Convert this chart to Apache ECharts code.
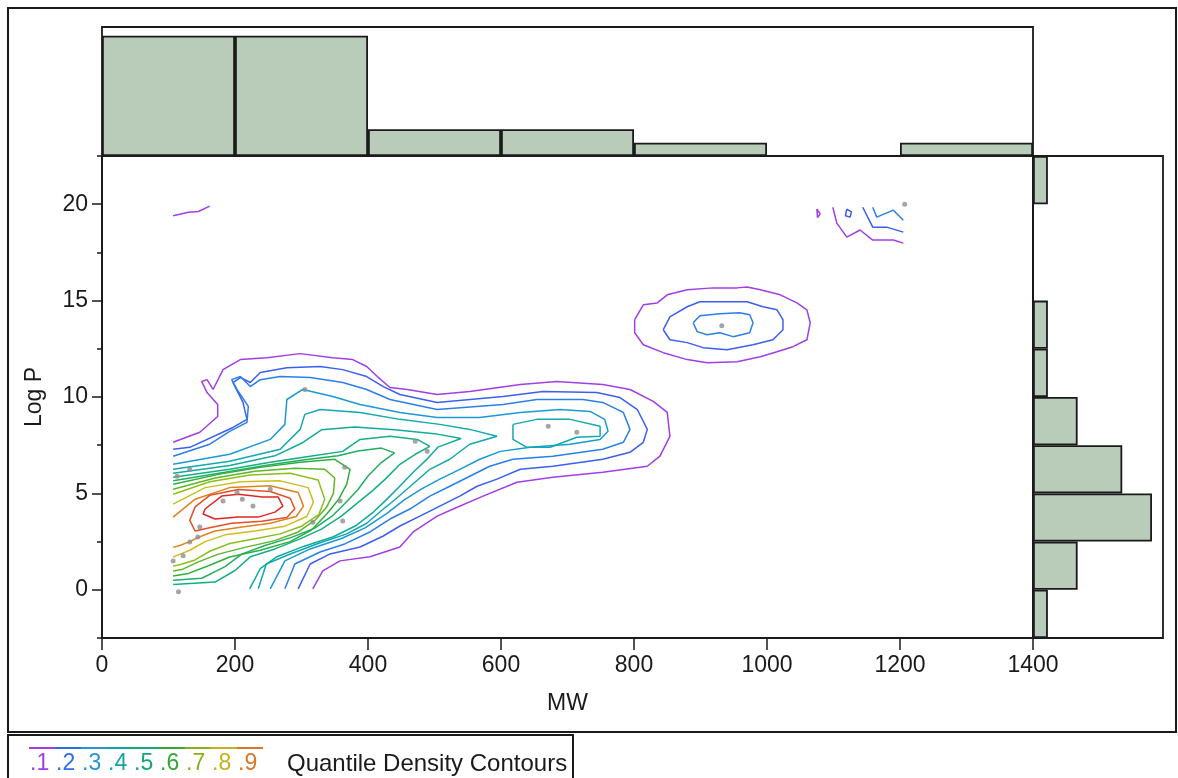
<!DOCTYPE html>
<html>
<head>
<meta charset="utf-8">
<script src="https://cdn.jsdelivr.net/npm/echarts@6/dist/echarts.min.js"></script>
<style>
html,body{margin:0;padding:0;background:#fff;}
#chart{width:1178px;height:778px;}
</style>
</head>
<body>
<div id="chart"></div>
<script>
// ---------------- data ----------------
const mwBins = ['0-200','200-400','400-600','600-800','800-1000','1000-1200','1200-1400'];
const mwCounts = [9, 9, 2, 2, 1, 0, 1];
const logpBins = ['-2.5-0','0-2.5','2.5-5','5-7.5','7.5-10','10-12.5','12.5-15','15-17.5','17.5-20','20-22.5'];
const logpCounts = [1, 3, 8, 6, 3, 1, 1, 0, 0, 1];

const pointsMW   = [115, 107, 122, 132, 144, 147, 132, 113, 182, 203, 211, 227, 253, 305, 317, 362, 358, 365, 471, 489, 671, 714, 932, 1207];
const pointsLogP = [-0.1, 1.5, 1.76, 2.48, 2.74, 3.26, 6.25, 5.89, 4.6, 5.06, 4.7, 4.34, 5.22, 10.39, 3.51, 3.57, 4.6, 6.36, 7.7, 7.18, 8.48, 8.17, 13.7, 20.0];

const xTicks = [0, 200, 400, 600, 800, 1000, 1200, 1400];
const yMajorTicks = [0, 5, 10, 15, 20];
const yMinorTicks = [-2.5, 2.5, 7.5, 12.5, 17.5, 22.5];
const quantileLabels = ['.1', '.2', '.3', '.4', '.5', '.6', '.7', '.8', '.9'];

// contour lines, [MW, LogP]
const contour1 = [[107,7.65],[147,8.17],[174,8.99],[174,9.61],[158,10.23],[150,10.8],[158,10.9],[167,10.39],[182,11.42],[208,11.94],[248,12.04],[298,12.25],[347,12.04],[377,11.94],[398,11.58],[414,11.06],[433,10.49],[459,10.39],[504,10.13],[553,10.28],[629,10.65],[684,10.8],[753,10.65],[794,10.39],[829,9.77],[850,9.2],[854,7.96],[839,6.93],[820,6.41],[753,6.1],[678,5.84],[624,5.58],[573,4.86],[528,4.19],[504,3.82],[468,3.0],[448,2.22],[403,1.71],[358,1.5],[332,0.98],[317,0.05]];
const contour2 = [[107,7.29],[132,7.39],[197,8.42],[218,8.84],[212,9.72],[197,10.75],[208,11.01],[223,10.75],[238,11.27],[278,11.52],[328,11.58],[362,11.42],[398,11.06],[423,10.54],[448,10.13],[504,9.72],[603,10.03],[663,10.28],[744,10.23],[779,9.97],[805,9.35],[820,8.32],[814,7.65],[794,7.13],[753,6.77],[678,6.41],[629,6.25],[594,5.74],[564,5.37],[538,4.86],[508,4.34],[478,3.82],[448,3.31],[423,2.79],[388,2.22],[343,1.86],[313,1.34],[295,0.05]];
const contour3 = [[107,6.93],[162,7.55],[192,8.22],[218,8.68],[220,9.51],[203,10.39],[195,10.9],[208,11.06],[223,10.54],[238,10.9],[268,11.06],[313,11.01],[362,10.75],[398,10.39],[433,9.87],[504,9.35],[603,9.61],[654,9.87],[723,9.87],[753,9.72],[784,9.2],[794,8.32],[784,7.65],[753,7.29],[678,6.93],[618,6.77],[583,6.41],[553,5.89],[523,5.37],[493,4.86],[463,4.19],[433,3.67],[403,3.0],[365,2.38],[328,1.96],[290,1.34],[275,0.05]];
const contour4 = [[107,6.51],[192,7.03],[253,7.8],[275,8.58],[278,9.87],[302,10.39],[347,10.03],[388,9.61],[448,9.2],[504,8.94],[568,8.94],[629,9.2],[689,9.35],[734,9.25],[756,8.84],[761,8.22],[749,7.8],[704,7.55],[644,7.39],[599,7.18],[568,6.77],[538,6.25],[508,5.74],[480,5.22],[454,4.65],[428,3.95],[395,3.2],[360,2.66],[313,2.12],[275,1.5],[253,0.05]];
const contour5 = [[107,6.25],[192,6.67],[268,7.29],[298,8.32],[305,9.1],[328,9.35],[388,9.2],[448,8.84],[508,8.58],[553,8.32],[594,7.96],[553,7.55],[523,6.77],[493,6.25],[468,5.5],[443,4.75],[420,4.1],[398,3.45],[368,2.9],[325,2.4],[283,1.86],[247,1.34],[235,0.05]];
const contour5b = [[618,8.58],[654,8.84],[704,8.84],[749,8.48],[749,7.96],[714,7.91],[674,7.39],[639,7.39],[618,7.8],[618,8.58]];
const contour5x = [[107,6.05],[192,6.45],[260,6.95],[300,7.6],[330,8.3],[380,8.45],[440,8.3],[500,8.1],[540,7.85],[505,7.4],[488,6.75],[468,6.1],[447,5.35],[427,4.65],[407,4.0],[383,3.35],[348,2.75],[303,2.25],[262,1.7],[238,1.1],[222,0.05]];
const contour6 = [[107,5.84],[192,6.25],[253,6.61],[313,6.93],[362,7.18],[388,7.8],[433,7.96],[474,7.8],[493,7.44],[471,7.03],[448,6.51],[426,5.74],[406,5.12],[382,4.44],[360,3.82],[330,3.15],[298,2.64],[260,2.12],[223,1.71],[200,1.0],[170,0.4],[107,0.28]];
const contour6x = [[107,5.66],[185,6.1],[245,6.45],[305,6.75],[355,6.95],[385,7.2],[420,7.35],[440,7.1],[420,6.6],[400,5.9],[385,5.2],[366,4.5],[347,3.85],[320,3.2],[285,2.72],[245,2.3],[210,1.85],[185,1.2],[150,0.6],[107,0.5]];
const contour7 = [[107,5.48],[177,6.0],[238,6.35],[298,6.61],[350,6.77],[373,6.25],[368,5.48],[356,4.7],[338,3.93],[315,3.1],[283,2.5],[238,2.05],[192,1.7],[160,1.25],[130,0.85],[107,0.72]];
const contour7x = [[107,5.22],[170,5.8],[230,6.15],[290,6.3],[335,6.25],[350,5.8],[348,5.0],[338,4.3],[320,3.6],[295,3.0],[260,2.55],[215,2.2],[175,1.85],[145,1.45],[120,1.05],[107,0.98]];
const contour8 = [[107,4.96],[162,5.6],[223,5.95],[283,6.05],[325,5.7],[335,4.7],[326,3.9],[300,3.3],[268,2.9],[230,2.65],[192,2.4],[162,2.0],[140,1.55],[117,1.3],[107,1.24]];
const contour9 = [[107,4.44],[155,5.3],[208,5.6],[268,5.65],[310,5.3],[318,4.55],[308,3.8],[275,3.3],[230,3.05],[185,2.85],[155,2.5],[132,2.05],[114,1.8],[107,1.7]];
const contour10 = [[107,3.77],[140,4.7],[192,5.3],[253,5.4],[295,5.05],[303,4.34],[292,3.8],[253,3.45],[208,3.25],[170,3.05],[147,2.75],[132,2.5],[117,2.3],[107,2.2]];
const contour11 = [[140,4.3],[162,4.9],[205,5.2],[253,5.1],[283,4.75],[290,4.2],[278,3.75],[240,3.55],[195,3.45],[160,3.2],[140,3.05],[132,3.6],[140,4.3]];
const contour12 = [[155,4.19],[180,4.86],[205,4.96],[241,4.81],[265,4.81],[272,4.34],[260,4.03],[235,3.77],[205,3.77],[170,3.67],[152,3.93],[155,4.19]];
const islandOuter = [[801,14.01],[814,14.78],[835,14.88],[850,15.3],[880,15.56],[919,15.66],[955,15.66],[970,15.71],[990,15.56],[1020,15.3],[1045,14.88],[1060,14.52],[1065,13.85],[1060,12.97],[1039,12.61],[1015,12.35],[990,12.09],[955,11.83],[910,11.78],[880,11.94],[844,12.3],[814,12.71],[801,13.33],[801,14.01]];
const islandMid = [[844,13.49],[854,14.16],[880,14.68],[899,14.94],[929,14.94],[970,14.94],[994,14.68],[1015,14.52],[1024,14.01],[1024,13.49],[1009,12.97],[979,12.71],[940,12.45],[904,12.56],[880,12.82],[854,12.97],[844,13.49]];
const islandInner = [[889,13.85],[899,14.21],[929,14.32],[959,14.37],[974,14.27],[979,13.85],[974,13.33],[949,13.13],[929,13.33],[910,13.23],[895,13.39],[889,13.85]];
const fragTopLeft = [[107,19.4],[130,19.58],[145,19.62],[162,19.9]];
const fragA = [[1075,19.75],[1076,19.3],[1080,19.5],[1075,19.75]];
const fragB = [[1099,19.84],[1105,19.02],[1120,18.29],[1140,18.66],[1159,18.14],[1190,18.14],[1205,17.98]];
const fragC = [[1120,19.75],[1118,19.4],[1125,19.33],[1127,19.6],[1120,19.75]];
const fragD = [[1144,19.84],[1159,18.81],[1180,18.81],[1205,18.55]];
const fragE = [[1159,19.84],[1165,19.33],[1190,19.69],[1205,19.17]];

// ---------------- styles ----------------
const C = {
  purple: '#a23ee6', blue1: '#3c5ff0', blue2: '#2a7fe8', blue3: '#1b98d8',
  teal: '#12a8b0', tealx: '#11ab9c', tealg: '#14ae86', greenx: '#22ae60', green: '#2fae3c',
  greenyx: '#5db52a', ygreen: '#8fbd1e', yellow: '#cdbd1e', orange: '#e0821e', redor: '#e2502a', red: '#e02626'
};
const legendColors = ['#a23ee6', '#2f6de6', '#2596d2', '#13a3a6', '#14a872', '#36a83a', '#8aae1c', '#c4b21c', '#d8792a'];

const contourDefs = [
  [contour1, C.purple], [contour2, C.blue1], [contour3, C.blue2], [contour4, C.blue3],
  [contour5, C.teal], [contour5b, C.teal], [contour5x, C.tealx], [contour6, C.tealg], [contour6x, C.greenx],
  [contour7, C.green], [contour7x, C.greenyx],
  [contour8, C.ygreen], [contour9, C.yellow], [contour10, C.orange], [contour11, C.redor],
  [contour12, C.red], [islandOuter, C.purple], [islandMid, C.blue1], [islandInner, C.blue2],
  [fragTopLeft, C.purple], [fragA, C.purple], [fragB, C.purple], [fragC, C.blue1],
  [fragD, C.blue1], [fragE, C.blue2]
];

const FONT = 'Liberation Sans, Arial, sans-serif';
const TXT = '#1a1a1a';
const BORDER = '#1a1a1a';
const BARFILL = '#b8ccb9';

const chart = echarts.init(document.getElementById('chart'), null, {renderer: 'canvas'});

const series = contourDefs.map(function (d) {
  return {
    type: 'line', xAxisIndex: 0, yAxisIndex: 0, data: d[0],
    showSymbol: false, symbol: 'none', silent: true, z: 2,
    lineStyle: {color: d[1], width: 1.5}
  };
});
series.push({
  type: 'scatter', xAxisIndex: 0, yAxisIndex: 0,
  data: pointsMW.map(function (v, i) { return [v, pointsLogP[i]]; }),
  symbolSize: 5, itemStyle: {color: '#8e8e8e'}, z: 5, silent: true
});
series.push({
  type: 'bar', xAxisIndex: 1, yAxisIndex: 2, data: mwCounts,
  barCategoryGap: '0%', silent: true,
  itemStyle: {color: BARFILL, borderColor: BORDER, borderWidth: 1.8}
});
series.push({
  type: 'bar', xAxisIndex: 2, yAxisIndex: 3, data: logpCounts,
  barCategoryGap: '0%', silent: true,
  itemStyle: {color: BARFILL, borderColor: BORDER, borderWidth: 1.8}
});

// legend graphics
const legendEls = [];
const lx0 = 29, lstep = 26;
quantileLabels.forEach(function (lab, i) {
  legendEls.push({
    type: 'line', shape: {x1: lx0 + i * lstep, y1: 748, x2: lx0 + (i + 1) * lstep, y2: 748},
    style: {stroke: legendColors[i], lineWidth: 2}
  });
  legendEls.push({
    type: 'text', x: lx0 + i * lstep + 1, y: 764,
    style: {text: lab, fill: legendColors[i], font: '23px ' + FONT, verticalAlign: 'middle', align: 'left'}
  });
});
legendEls.push({
  type: 'text', x: 287, y: 764,
  style: {text: 'Quantile Density Contours', fill: TXT, font: '24px ' + FONT, verticalAlign: 'middle', align: 'left'}
});
legendEls.push({
  type: 'rect', shape: {x: 8, y: 8, width: 1168, height: 724},
  style: {fill: 'none', stroke: BORDER, lineWidth: 2}
});
legendEls.push({
  type: 'rect', shape: {x: 8, y: 735, width: 565, height: 50},
  style: {fill: 'none', stroke: BORDER, lineWidth: 2}
});

chart.setOption({
  animation: false,
  backgroundColor: '#ffffff',
  textStyle: {fontFamily: FONT},
  grid: [
    {left: 102, top: 156, width: 931, height: 482, show: true, borderColor: BORDER, borderWidth: 1.8, backgroundColor: 'transparent'},
    {left: 102, top: 27, width: 931, height: 129, show: true, borderColor: BORDER, borderWidth: 1.8, backgroundColor: 'transparent'},
    {left: 1033, top: 156, width: 130, height: 482, show: true, borderColor: BORDER, borderWidth: 1.8, backgroundColor: 'transparent'}
  ],
  xAxis: [
    {
      type: 'value', gridIndex: 0, min: 0, max: 1400,
      name: 'MW', nameLocation: 'middle', nameGap: 54,
      nameTextStyle: {fontSize: 23, color: TXT, fontFamily: FONT},
      axisLine: {show: true, onZero: false, lineStyle: {color: BORDER, width: 1.8}},
      axisTick: {show: true, length: 12, lineStyle: {color: BORDER, width: 1.5}, customValues: xTicks},
      axisLabel: {fontSize: 23, color: TXT, margin: 16, fontFamily: FONT, customValues: xTicks,
        formatter: function (v) { return String(v); }},
      splitLine: {show: false}
    },
    {type: 'category', gridIndex: 1, data: mwBins, show: false, boundaryGap: true},
    {type: 'value', gridIndex: 2, min: 0, max: 8.74, show: false, splitLine: {show: false}}
  ],
  yAxis: [
    {
      type: 'value', gridIndex: 0, min: -2.5, max: 22.5,
      name: 'Log P', nameLocation: 'middle', nameGap: 56, nameRotate: 90,
      nameTextStyle: {fontSize: 23, color: TXT, fontFamily: FONT},
      axisLine: {show: true, onZero: false, lineStyle: {color: BORDER, width: 1.8}},
      axisTick: {show: true, length: 10, lineStyle: {color: BORDER, width: 1.5}, customValues: yMajorTicks},
      axisLabel: {fontSize: 23, color: TXT, margin: 14, fontFamily: FONT, customValues: yMajorTicks,
        formatter: function (v) { return String(v); }},
      splitLine: {show: false}
    },
    {
      type: 'value', gridIndex: 0, min: -2.5, max: 22.5, position: 'left', offset: 0,
      axisLine: {show: false, onZero: false},
      axisTick: {show: true, length: 5, lineStyle: {color: BORDER, width: 1.5}, customValues: yMinorTicks},
      axisLabel: {show: false},
      splitLine: {show: false}
    },
    {type: 'value', gridIndex: 1, min: 0, max: 9.65, show: false, splitLine: {show: false}},
    {type: 'category', gridIndex: 2, data: logpBins, show: false, boundaryGap: true}
  ],
  series: series,
  graphic: legendEls
});
</script>
</body>
</html>
